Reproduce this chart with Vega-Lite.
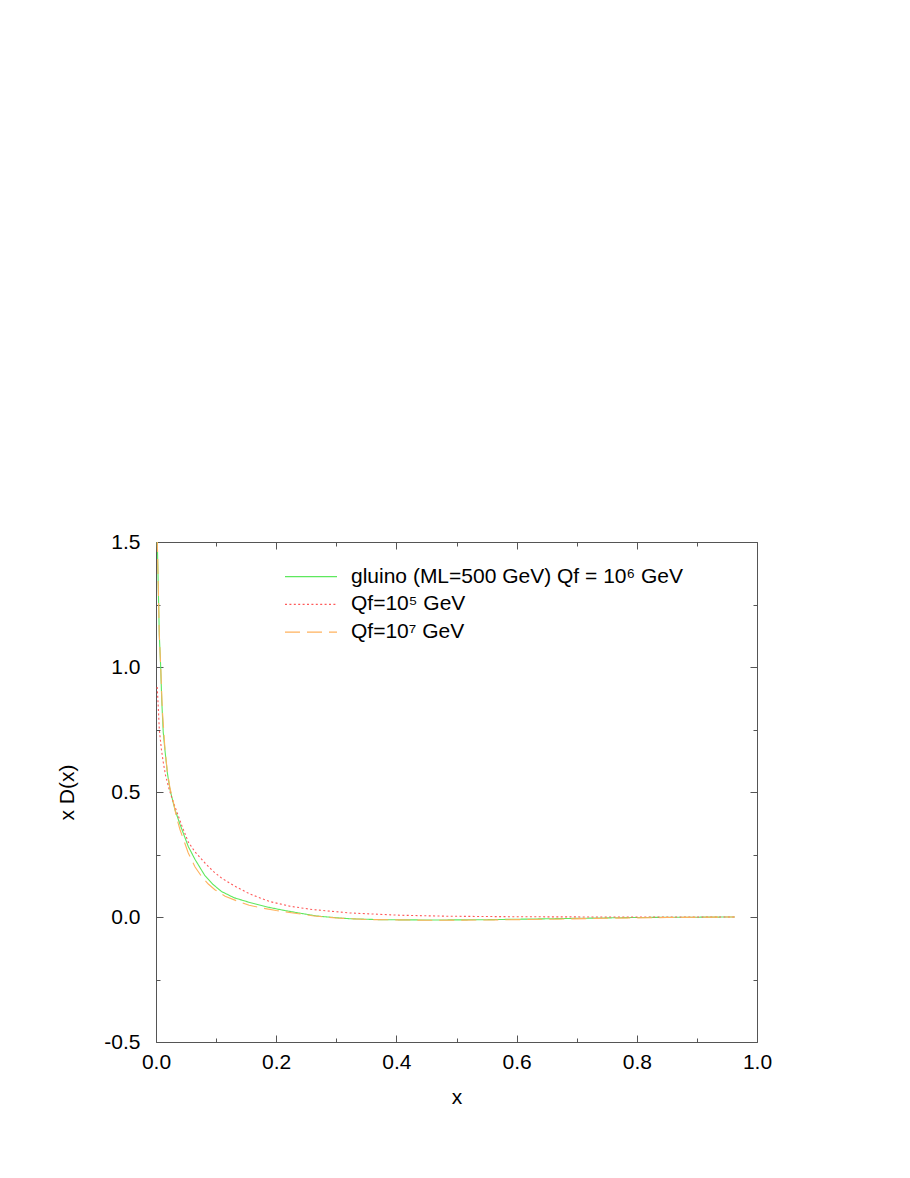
{
  "$schema": "https://vega.github.io/schema/vega-lite/v6.json",
  "width": 601,
  "height": 500,
  "autosize": {"type": "none"},
  "padding": {"left": 156, "top": 542, "right": 153, "bottom": 136},
  "background": "white",
  "config": {
    "view": {"stroke": "#555555", "strokeWidth": 1},
    "axis": {"grid": false, "domain": false, "tickColor": "#555555", "tickWidth": 1, "labelFont": "Liberation Sans", "titleFont": "Liberation Sans", "labelFontSize": 21, "titleFontSize": 21, "titleFontWeight": "normal", "labelColor": "#000000", "titleColor": "#000000", "labelFlush": false, "labelOverlap": false},
    "legend": {"labelFont": "Liberation Sans"}
  },
  "data": {
    "values": [
      {"x": 0.002, "y": 1.52, "s": "gluino (ML=500 GeV) Qf = 10⁶ GeV"},
      {"x": 0.0055, "y": 1.128, "s": "gluino (ML=500 GeV) Qf = 10⁶ GeV"},
      {"x": 0.0078, "y": 1.0, "s": "gluino (ML=500 GeV) Qf = 10⁶ GeV"},
      {"x": 0.0095, "y": 0.87, "s": "gluino (ML=500 GeV) Qf = 10⁶ GeV"},
      {"x": 0.012, "y": 0.74, "s": "gluino (ML=500 GeV) Qf = 10⁶ GeV"},
      {"x": 0.015, "y": 0.665, "s": "gluino (ML=500 GeV) Qf = 10⁶ GeV"},
      {"x": 0.019, "y": 0.575, "s": "gluino (ML=500 GeV) Qf = 10⁶ GeV"},
      {"x": 0.0233, "y": 0.509, "s": "gluino (ML=500 GeV) Qf = 10⁶ GeV"},
      {"x": 0.0316, "y": 0.429, "s": "gluino (ML=500 GeV) Qf = 10⁶ GeV"},
      {"x": 0.04, "y": 0.37, "s": "gluino (ML=500 GeV) Qf = 10⁶ GeV"},
      {"x": 0.0537, "y": 0.282, "s": "gluino (ML=500 GeV) Qf = 10⁶ GeV"},
      {"x": 0.065, "y": 0.23, "s": "gluino (ML=500 GeV) Qf = 10⁶ GeV"},
      {"x": 0.0815, "y": 0.165, "s": "gluino (ML=500 GeV) Qf = 10⁶ GeV"},
      {"x": 0.095, "y": 0.13, "s": "gluino (ML=500 GeV) Qf = 10⁶ GeV"},
      {"x": 0.109, "y": 0.102, "s": "gluino (ML=500 GeV) Qf = 10⁶ GeV"},
      {"x": 0.13, "y": 0.077, "s": "gluino (ML=500 GeV) Qf = 10⁶ GeV"},
      {"x": 0.156, "y": 0.058, "s": "gluino (ML=500 GeV) Qf = 10⁶ GeV"},
      {"x": 0.185, "y": 0.04, "s": "gluino (ML=500 GeV) Qf = 10⁶ GeV"},
      {"x": 0.212, "y": 0.027, "s": "gluino (ML=500 GeV) Qf = 10⁶ GeV"},
      {"x": 0.24, "y": 0.015, "s": "gluino (ML=500 GeV) Qf = 10⁶ GeV"},
      {"x": 0.267, "y": 0.004, "s": "gluino (ML=500 GeV) Qf = 10⁶ GeV"},
      {"x": 0.3, "y": -0.003, "s": "gluino (ML=500 GeV) Qf = 10⁶ GeV"},
      {"x": 0.323, "y": -0.007, "s": "gluino (ML=500 GeV) Qf = 10⁶ GeV"},
      {"x": 0.378, "y": -0.011, "s": "gluino (ML=500 GeV) Qf = 10⁶ GeV"},
      {"x": 0.461, "y": -0.012, "s": "gluino (ML=500 GeV) Qf = 10⁶ GeV"},
      {"x": 0.544, "y": -0.011, "s": "gluino (ML=500 GeV) Qf = 10⁶ GeV"},
      {"x": 0.627, "y": -0.008, "s": "gluino (ML=500 GeV) Qf = 10⁶ GeV"},
      {"x": 0.711, "y": -0.005, "s": "gluino (ML=500 GeV) Qf = 10⁶ GeV"},
      {"x": 0.794, "y": -0.002, "s": "gluino (ML=500 GeV) Qf = 10⁶ GeV"},
      {"x": 0.88, "y": -0.001, "s": "gluino (ML=500 GeV) Qf = 10⁶ GeV"},
      {"x": 0.963, "y": 0.0, "s": "gluino (ML=500 GeV) Qf = 10⁶ GeV"},
      {"x": 0.002, "y": 0.92, "s": "Qf=10⁵ GeV"},
      {"x": 0.004, "y": 0.83, "s": "Qf=10⁵ GeV"},
      {"x": 0.0055, "y": 0.75, "s": "Qf=10⁵ GeV"},
      {"x": 0.009, "y": 0.67, "s": "Qf=10⁵ GeV"},
      {"x": 0.012, "y": 0.62, "s": "Qf=10⁵ GeV"},
      {"x": 0.016, "y": 0.565, "s": "Qf=10⁵ GeV"},
      {"x": 0.022, "y": 0.51, "s": "Qf=10⁵ GeV"},
      {"x": 0.028, "y": 0.465, "s": "Qf=10⁵ GeV"},
      {"x": 0.034, "y": 0.425, "s": "Qf=10⁵ GeV"},
      {"x": 0.043, "y": 0.365, "s": "Qf=10⁵ GeV"},
      {"x": 0.0537, "y": 0.3, "s": "Qf=10⁵ GeV"},
      {"x": 0.065, "y": 0.26, "s": "Qf=10⁵ GeV"},
      {"x": 0.0815, "y": 0.216, "s": "Qf=10⁵ GeV"},
      {"x": 0.095, "y": 0.183, "s": "Qf=10⁵ GeV"},
      {"x": 0.109, "y": 0.156, "s": "Qf=10⁵ GeV"},
      {"x": 0.13, "y": 0.125, "s": "Qf=10⁵ GeV"},
      {"x": 0.156, "y": 0.092, "s": "Qf=10⁵ GeV"},
      {"x": 0.189, "y": 0.062, "s": "Qf=10⁵ GeV"},
      {"x": 0.223, "y": 0.043, "s": "Qf=10⁵ GeV"},
      {"x": 0.26, "y": 0.03, "s": "Qf=10⁵ GeV"},
      {"x": 0.323, "y": 0.016, "s": "Qf=10⁵ GeV"},
      {"x": 0.406, "y": 0.007, "s": "Qf=10⁵ GeV"},
      {"x": 0.489, "y": 0.003, "s": "Qf=10⁵ GeV"},
      {"x": 0.6, "y": 0.001, "s": "Qf=10⁵ GeV"},
      {"x": 0.75, "y": 0.0, "s": "Qf=10⁵ GeV"},
      {"x": 0.963, "y": 0.0, "s": "Qf=10⁵ GeV"},
      {"x": 0.002, "y": 1.52, "s": "Qf=10⁷ GeV"},
      {"x": 0.0055, "y": 1.13, "s": "Qf=10⁷ GeV"},
      {"x": 0.008, "y": 0.99, "s": "Qf=10⁷ GeV"},
      {"x": 0.0105, "y": 0.83, "s": "Qf=10⁷ GeV"},
      {"x": 0.015, "y": 0.668, "s": "Qf=10⁷ GeV"},
      {"x": 0.019, "y": 0.58, "s": "Qf=10⁷ GeV"},
      {"x": 0.0233, "y": 0.515, "s": "Qf=10⁷ GeV"},
      {"x": 0.0288, "y": 0.462, "s": "Qf=10⁷ GeV"},
      {"x": 0.034, "y": 0.4, "s": "Qf=10⁷ GeV"},
      {"x": 0.04, "y": 0.349, "s": "Qf=10⁷ GeV"},
      {"x": 0.0537, "y": 0.256, "s": "Qf=10⁷ GeV"},
      {"x": 0.065, "y": 0.2, "s": "Qf=10⁷ GeV"},
      {"x": 0.076, "y": 0.162, "s": "Qf=10⁷ GeV"},
      {"x": 0.087, "y": 0.132, "s": "Qf=10⁷ GeV"},
      {"x": 0.098, "y": 0.109, "s": "Qf=10⁷ GeV"},
      {"x": 0.115, "y": 0.083, "s": "Qf=10⁷ GeV"},
      {"x": 0.137, "y": 0.062, "s": "Qf=10⁷ GeV"},
      {"x": 0.155, "y": 0.047, "s": "Qf=10⁷ GeV"},
      {"x": 0.176, "y": 0.036, "s": "Qf=10⁷ GeV"},
      {"x": 0.2, "y": 0.026, "s": "Qf=10⁷ GeV"},
      {"x": 0.231, "y": 0.015, "s": "Qf=10⁷ GeV"},
      {"x": 0.26, "y": 0.005, "s": "Qf=10⁷ GeV"},
      {"x": 0.3, "y": -0.004, "s": "Qf=10⁷ GeV"},
      {"x": 0.35, "y": -0.01, "s": "Qf=10⁷ GeV"},
      {"x": 0.45, "y": -0.013, "s": "Qf=10⁷ GeV"},
      {"x": 0.55, "y": -0.012, "s": "Qf=10⁷ GeV"},
      {"x": 0.65, "y": -0.009, "s": "Qf=10⁷ GeV"},
      {"x": 0.75, "y": -0.005, "s": "Qf=10⁷ GeV"},
      {"x": 0.85, "y": -0.002, "s": "Qf=10⁷ GeV"},
      {"x": 0.963, "y": 0.0, "s": "Qf=10⁷ GeV"}
    ]
  },
  "layer": [
    {
      "mark": {"type": "line", "clip": true, "strokeWidth": 1.1},
      "encoding": {
        "x": {"field": "x", "type": "quantitative", "scale": {"domain": [0, 1], "nice": false, "zero": false},
          "axis": {"orient": "bottom", "values": [0, 0.2, 0.4, 0.6, 0.8, 1.0], "format": ".1f", "tickSize": -7, "labelPadding": 16.5, "title": "x", "titlePadding": 14}},
        "y": {"field": "y", "type": "quantitative", "scale": {"domain": [-0.5, 1.5], "nice": false, "zero": false},
          "axis": {"orient": "left", "values": [-0.5, 0, 0.5, 1.0, 1.5], "labelExpr": "datum.value < 0 ? '-' + format(-datum.value, '.1f') : format(datum.value, '.1f')", "tickSize": -7, "labelPadding": 23, "title": "x D(x)", "titlePadding": 26}},
        "color": {"field": "s", "type": "nominal",
          "scale": {"domain": ["gluino (ML=500 GeV) Qf = 10⁶ GeV", "Qf=10⁵ GeV", "Qf=10⁷ GeV"], "range": ["#5ee85e", "#ff5a5a", "#ffb25e"]},
          "legend": {"orient": "none", "legendX": 128, "legendY": 23.7, "title": null, "symbolType": "stroke", "symbolSize": 2704, "symbolStrokeWidth": 1.3, "clipHeight": 22, "rowPadding": 5.7, "labelOffset": 13, "labelFontSize": 21, "labelColor": "#000000", "padding": 0, "labelLimit": 600}},
        "strokeDash": {"field": "s", "type": "nominal",
          "scale": {"domain": ["gluino (ML=500 GeV) Qf = 10⁶ GeV", "Qf=10⁵ GeV", "Qf=10⁷ GeV"], "range": [[1, 0], [2, 2.4], [15, 7]]},
          "legend": {"orient": "none", "legendX": 128, "legendY": 23.7, "title": null, "symbolType": "stroke", "symbolSize": 2704, "symbolStrokeWidth": 1.3, "clipHeight": 22, "rowPadding": 5.7, "labelOffset": 13, "labelFontSize": 21, "labelColor": "#000000", "padding": 0, "labelLimit": 600}}
      }
    },
    {
      "mark": {"type": "point", "opacity": 0},
      "encoding": {
        "x": {"field": "x", "type": "quantitative", "axis": {"orient": "bottom", "values": [0.1, 0.3, 0.5, 0.7, 0.9], "labels": false, "tickSize": -4, "title": null}},
        "y": {"field": "y", "type": "quantitative", "axis": {"orient": "left", "values": [-0.25, 0.25, 0.75, 1.25], "labels": false, "tickSize": -4, "title": null}}
      }
    },
    {
      "mark": {"type": "point", "opacity": 0},
      "encoding": {
        "x": {"field": "x", "type": "quantitative", "axis": {"orient": "top", "values": [0, 0.2, 0.4, 0.6, 0.8, 1.0], "labels": false, "tickSize": -7, "title": null}},
        "y": {"field": "y", "type": "quantitative", "axis": {"orient": "right", "values": [-0.5, 0, 0.5, 1.0, 1.5], "labels": false, "tickSize": -7, "title": null}}
      }
    },
    {
      "mark": {"type": "point", "opacity": 0},
      "encoding": {
        "x": {"field": "x", "type": "quantitative", "axis": {"orient": "top", "values": [0.1, 0.3, 0.5, 0.7, 0.9], "labels": false, "tickSize": -4, "title": null}},
        "y": {"field": "y", "type": "quantitative", "axis": {"orient": "right", "values": [-0.25, 0.25, 0.75, 1.25], "labels": false, "tickSize": -4, "title": null}}
      }
    }
  ],
  "resolve": {"axis": {"x": "independent", "y": "independent"}}
}
